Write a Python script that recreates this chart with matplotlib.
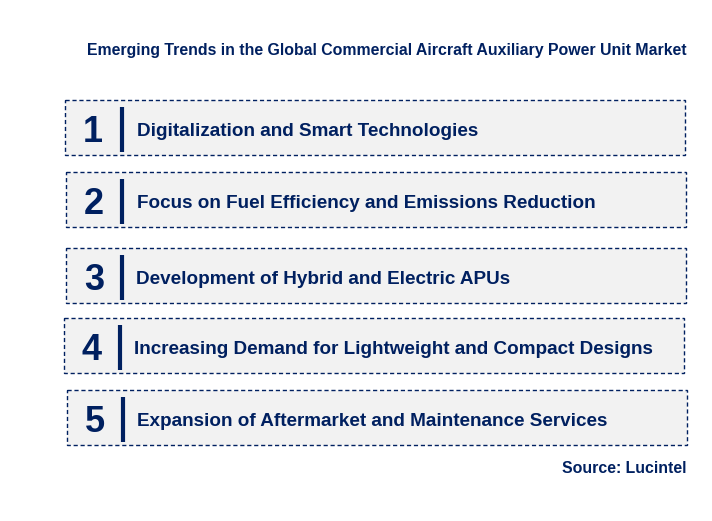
import matplotlib
matplotlib.use("Agg")
import matplotlib.pyplot as plt
from matplotlib.patches import Rectangle

title = "Emerging Trends in the Global Commercial Aircraft Auxiliary Power Unit Market"
source = "Source: Lucintel"
numbers = ["1", "2", "3", "4", "5"]
trends = [
    "Digitalization and Smart Technologies",
    "Focus on Fuel Efficiency and Emissions Reduction",
    "Development of Hybrid and Electric APUs",
    "Increasing Demand for Lightweight and Compact Designs",
    "Expansion of Aftermarket and Maintenance Services",
]

# layout in pixels (box left, top / bar x / text x)
box_left = [65, 66, 66, 64, 67]
box_top = [100, 172, 248, 318, 390]
box_w = 620
box_h = 55
bar_x = [122, 122, 122, 120, 123]
text_x = [137, 137, 136, 134, 137]

navy = "#002060"
fill = "#f2f2f2"

plt.rcParams['font.family'] = ['Liberation Sans', 'DejaVu Sans']

fig = plt.figure(figsize=(7.12, 5.21), dpi=100)
ax = fig.add_axes([0, 0, 1, 1])
ax.set_xlim(0, 712)
ax.set_ylim(521, 0)
ax.axis('off')

ax.text(687, 55, title, ha='right', va='baseline', fontsize=11.4, fontweight='bold', color=navy)

for i in range(len(trends)):
    x0 = box_left[i]
    y0 = box_top[i]
    ax.add_patch(Rectangle((x0, y0), box_w, box_h, facecolor=fill, edgecolor=navy,
                           linewidth=1, linestyle=(0, (3, 2))))
    ax.text(x0 + 28, y0 + 42.5, numbers[i], ha='center', va='baseline', fontsize=26,
            fontweight='bold', color=navy)
    ax.plot([bar_x[i], bar_x[i]], [y0 + 7, y0 + 51.5], color=navy, linewidth=3,
            solid_capstyle='butt')
    ax.text(text_x[i], y0 + 36.5, trends[i], ha='left', va='baseline', fontsize=13.6,
            fontweight='bold', color=navy)

ax.text(687, 473, source, ha='right', va='baseline', fontsize=11.4, fontweight='bold', color=navy)

fig.savefig("out.png", dpi=100)
